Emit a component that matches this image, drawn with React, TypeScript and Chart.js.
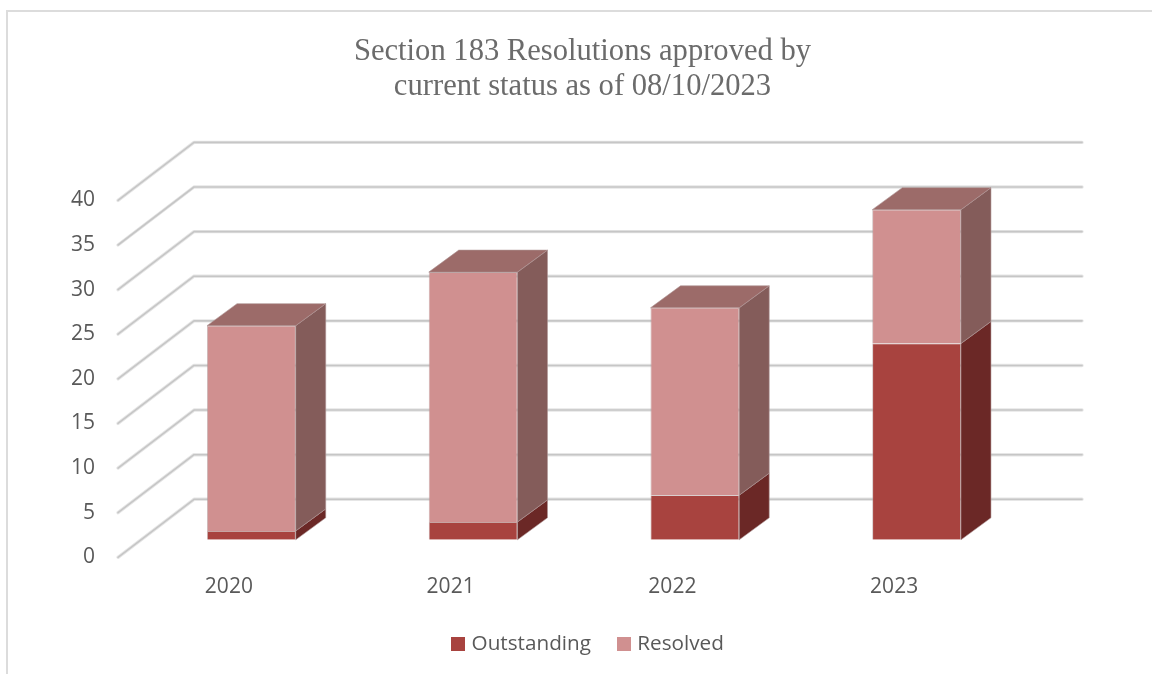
import React, { useEffect, useRef } from "react";
import { Chart, registerables } from "chart.js";

Chart.register(...registerables);

const years = ["2020", "2021", "2022", "2023"];
const outstanding = [1, 2, 5, 22];
const resolved = [23, 28, 21, 15];
const titleLines = ["Section 183 Resolutions approved by", "current status as of 08/10/2023"];

const FRONT = { outstanding: "#A8433F", resolved: "#D09090" };
const SIDE = ["#6B2826", "#845C5A"];
const TOP = "#9C6B69";
const EDGE = "rgba(175,150,150,0.75)";

// wall depth and bar offset / depth inside the 3D box
const WALL = { dx: 76, dy: -58 };
const BAR_SHIFT = { dx: 22.5, dy: -17.5 };
const BAR_DEPTH = { dx: 30, dy: -22 };
const LEGEND_PAD = 30;
const LEGEND_FONT = 20.7;

function swatch(color: string) {
  const c = document.createElement("canvas");
  c.width = 14;
  c.height = 14;
  const g = c.getContext("2d")!;
  g.fillStyle = color;
  g.fillRect(0, 0, 14, 14);
  return c;
}

function poly(ctx: CanvasRenderingContext2D, pts: number[][], fill: string) {
  ctx.beginPath();
  pts.forEach((p, i) => (i ? ctx.lineTo(p[0], p[1]) : ctx.moveTo(p[0], p[1])));
  ctx.closePath();
  ctx.fillStyle = fill;
  ctx.fill();
  ctx.strokeStyle = EDGE;
  ctx.lineWidth = 0.8;
  ctx.stroke();
}

const box3d = {
  id: "box3d",
  afterLayout(chart: any) {
    const t = chart.titleBlock;
    t.left = 0;
    t.right = 1165;
    const l = chart.legend;
    l.left = 0;
    l.right = 1179;
    l.top = 644 - LEGEND_PAD - LEGEND_FONT / 2;
    l.bottom = l.top + l.height;
  },
  beforeDraw(chart: any) {
    const ctx = chart.ctx;
    ctx.save();
    ctx.strokeStyle = "#DCDCDC";
    ctx.lineWidth = 2;
    ctx.beginPath();
    ctx.moveTo(7, 674);
    ctx.lineTo(7, 11);
    ctx.lineTo(1152, 11);
    ctx.stroke();
    ctx.restore();
  },
  beforeDatasetsDraw(chart: any) {
    const ctx = chart.ctx;
    const { x, y } = chart.scales;
    ctx.save();
    ctx.lineCap = "round";
    ctx.lineJoin = "round";
    y.ticks.forEach((tick: any) => {
      const py = y.getPixelForValue(tick.value);
      const path = () => {
        ctx.beginPath();
        ctx.moveTo(x.left, py);
        ctx.lineTo(x.left + WALL.dx, py + WALL.dy);
        ctx.lineTo(x.right + WALL.dx + 1, py + WALL.dy);
      };
      path();
      ctx.strokeStyle = "#E6E6E6";
      ctx.lineWidth = 3.4;
      ctx.stroke();
      path();
      ctx.strokeStyle = "#C6C6C6";
      ctx.lineWidth = 1.6;
      ctx.stroke();
    });
    ctx.restore();

    ctx.save();
    ctx.translate(BAR_SHIFT.dx, BAR_SHIFT.dy);
    const last = chart.data.datasets.length - 1;
    chart.data.datasets.forEach((_: any, di: number) => {
      chart.getDatasetMeta(di).data.forEach((bar: any) => {
        const r = bar.x + bar.width / 2;
        const l = bar.x - bar.width / 2;
        const { dx, dy } = BAR_DEPTH;
        poly(ctx, [[r, bar.y], [r + dx, bar.y + dy], [r + dx, bar.base + dy], [r, bar.base]], SIDE[di]);
        if (di === last) {
          poly(ctx, [[l, bar.y], [l + dx, bar.y + dy], [r + dx, bar.y + dy], [r, bar.y]], TOP);
        }
      });
    });
  },
  afterDatasetsDraw(chart: any) {
    chart.ctx.restore();
  },
};

export default function App() {
  const ref = useRef<HTMLCanvasElement>(null);
  useEffect(() => {
    const chart = new Chart(ref.current!, {
      type: "bar",
      data: {
        labels: years,
        datasets: [
          { label: "Outstanding", data: outstanding, backgroundColor: FRONT.outstanding, borderColor: EDGE, borderWidth: 0.8 },
          { label: "Resolved", data: resolved, backgroundColor: FRONT.resolved, borderColor: EDGE, borderWidth: 0.8 },
        ],
      },
      options: {
        responsive: false,
        animation: false,
        devicePixelRatio: 1,
        layout: { padding: { left: 0, right: 147, top: 0, bottom: 0 } },
        datasets: { bar: { barPercentage: 1, categoryPercentage: 0.4 } },
        plugins: {
          tooltip: { enabled: false },
          title: {
            display: true,
            text: titleLines,
            color: "#6B6B6B",
            font: { family: "'Liberation Serif', serif", size: 30.6, weight: "normal", lineHeight: 1.15 },
            padding: { top: 34, bottom: 96 },
          },
          legend: {
            position: "bottom",
            labels: {
              color: "#595959",
              font: { family: "'Open Sans', sans-serif", size: LEGEND_FONT },
              boxHeight: 14,
              usePointStyle: true,
              pointStyleWidth: 6,
              padding: LEGEND_PAD,
              generateLabels: (c: any) =>
                Chart.defaults.plugins.legend.labels.generateLabels(c).map((it: any) => ({
                  ...it,
                  pointStyle: swatch(it.fillStyle),
                })),
            },
          },
        },
        scales: {
          x: {
            stacked: true,
            grid: { display: false },
            border: { display: false },
            afterFit: (s: any) => { s.height = 117 - 61; },
            ticks: {
              color: "#595959",
              font: { family: "'Open Sans', sans-serif", size: 21 },
              padding: 9,
              maxRotation: 0,
            },
          },
          y: {
            stacked: true,
            min: 0,
            max: 40,
            grid: { display: false },
            border: { display: false },
            afterFit: (s: any) => { s.width = 118; },
            ticks: {
              stepSize: 5,
              color: "#595959",
              font: { family: "'Open Sans', sans-serif", size: 21 },
              padding: 15,
            },
          },
        },
      },
      plugins: [box3d],
    } as any);
    return () => chart.destroy();
  }, []);
  return (
    <div style={{ position: "fixed", left: 0, top: 0, width: 1152, height: 674, background: "#fff" }}>
      <canvas ref={ref} width={1152} height={674} style={{ display: "block" }} />
    </div>
  );
}
